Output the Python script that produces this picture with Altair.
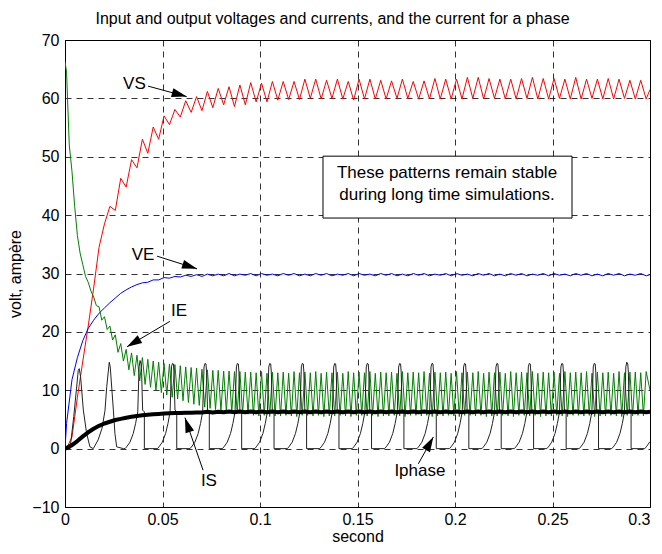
import math
import pandas as pd
import altair as alt

TITLE = "Input and output voltages and currents, and the current for a phase"
X_LABEL = "second"
Y_LABEL = "volt, ampère"
X_TICKS = [0, 0.05, 0.1, 0.15, 0.2, 0.25, 0.3]
Y_TICKS = [-10, 0, 10, 20, 30, 40, 50, 60, 70]
T_END = 0.3

# VS, VE, IS read at the peaks / troughs of the 180 Hz ripple
# (first value at t=0, last value at t=0.3)
RIP_T0 = 0.0008
RIP_STEP = 1 / 360
vs_values = [
    0, 0, 2, 8.8, 15, 21, 27.5, 34.5, 38.5, 41.5,
    40.8, 46.3, 44.8, 49.5, 48.1, 53.0, 50.6, 55.1, 53.0, 57.0,
    55.5, 58.1, 56.8, 59.6, 57.6, 60.3, 57.9, 61.2, 58.4, 61.7,
    58.9, 62.0, 58.6, 62.3, 58.9, 62.7, 59.4, 62.6, 59.4, 62.9,
    59.7, 62.9, 59.8, 62.9, 59.8, 63.3, 60.0, 63.3, 59.9, 63.1,
    60.0, 63.3, 59.9, 62.9, 59.7, 63.3, 59.9, 63.3, 59.9, 63.1,
    59.9, 63.0, 60.0, 63.3, 60.0, 62.9, 59.9, 63.0, 59.9, 63.4,
    59.9, 63.3, 59.9, 63.3, 59.9, 63.6, 60.0, 63.6, 59.9, 63.4,
    60.0, 63.3, 59.9, 63.3, 59.9, 63.4, 60.0, 63.6, 59.9, 63.4,
    59.9, 63.4, 60.0, 63.3, 59.9, 63.6, 59.9, 63.3, 60.0, 63.3,
    59.9, 63.4, 59.9, 63.3, 60.0, 63.1, 59.9, 63.1, 59.9, 61.5,
]
ve_values = [
    0, 4.3, 11.8, 15.6, 18.5, 20.6, 22.0, 23.2, 24.1, 25.0,
    25.8, 26.6, 27.2, 27.7, 28.1, 28.4, 28.5, 28.9, 28.9, 29.3,
    29.2, 29.5, 29.4, 29.7, 29.5, 29.8, 29.5, 29.9, 29.6, 29.9,
    29.6, 30.0, 29.6, 29.9, 29.7, 30.0, 29.6, 30.0, 29.7, 29.9,
    29.6, 30.0, 29.7, 30.0, 29.6, 29.9, 29.6, 30.0, 29.7, 30.0,
    29.6, 29.9, 29.7, 30.0, 29.6, 30.0, 29.7, 29.9, 29.6, 30.0,
    29.7, 30.0, 29.6, 29.9, 29.6, 30.0, 29.7, 30.0, 29.6, 29.9,
    29.7, 30.0, 29.6, 30.0, 29.7, 29.9, 29.6, 30.0, 29.7, 30.0,
    29.6, 29.9, 29.6, 30.0, 29.7, 30.0, 29.6, 29.9, 29.7, 30.0,
    29.6, 30.0, 29.7, 29.9, 29.6, 30.0, 29.7, 30.0, 29.6, 29.9,
    29.6, 30.0, 29.7, 30.0, 29.6, 29.9, 29.7, 30.0, 29.6, 29.8,
]
is_values = [
    0, 0.1, 0.6, 1.3, 2.1, 2.8, 3.4, 3.9, 4.3, 4.6,
    4.9, 5.1, 5.3, 5.45, 5.6, 5.7, 5.8, 5.9, 5.95, 6.0,
    6.05, 6.1, 6.1, 6.15, 6.15, 6.2, 6.2, 6.3, 6.2, 6.3,
    6.25, 6.35, 6.25, 6.35, 6.25, 6.35, 6.25, 6.35, 6.25, 6.35,
    6.25, 6.35, 6.25, 6.35, 6.25, 6.35, 6.25, 6.35, 6.25, 6.35,
    6.25, 6.35, 6.25, 6.35, 6.25, 6.35, 6.25, 6.35, 6.25, 6.35,
    6.25, 6.35, 6.25, 6.35, 6.25, 6.35, 6.25, 6.35, 6.25, 6.35,
    6.25, 6.35, 6.25, 6.35, 6.25, 6.35, 6.25, 6.35, 6.25, 6.35,
    6.25, 6.35, 6.25, 6.35, 6.25, 6.35, 6.25, 6.35, 6.25, 6.35,
    6.25, 6.35, 6.25, 6.35, 6.25, 6.35, 6.25, 6.35, 6.25, 6.35,
    6.25, 6.35, 6.25, 6.35, 6.25, 6.35, 6.25, 6.35, 6.25, 6.3,
]

# IE read at the peaks / troughs of its 360 Hz ripple
IE_T0 = 0.0008
IE_STEP = 1 / 720
ie_values = [
    66.3, 64.5, 52, 47.5, 41.5, 36.5, 33.5, 31.5, 29.5, 28.5,
    27, 26, 24.5, 24.3, 22.0, 22.6, 20.4, 21.0, 18.6, 19.5,
    16.5, 18.0, 15.0, 17.0, 13.5, 16.4, 12.5, 16.0, 11.6, 15.6,
    11.0, 15.3, 10.5, 15.0, 10.0, 14.8, 9.6, 14.6, 9.2, 14.5,
    8.8, 14.4, 8.5, 14.2, 8.2, 14.0, 7.9, 13.9, 7.6, 13.8,
    7.4, 13.6, 7.1, 13.5, 6.9, 13.4, 6.7, 13.4, 6.5, 13.3,
    6.4, 13.3, 6.2, 13.2, 6.1, 13.2, 6.0, 13.1, 5.9, 13.1,
    5.7, 13.0, 5.6, 13.2, 5.7, 12.9, 5.5, 13.1, 5.6, 13.0,
    5.6, 13.1, 5.7, 12.9, 5.6, 13.2, 5.5, 13.0, 5.7, 13.1,
    5.7, 13.0, 5.6, 13.2, 5.7, 12.9, 5.5, 13.1, 5.6, 13.0,
    5.6, 13.1, 5.7, 12.9, 5.6, 13.2, 5.5, 13.0, 5.7, 13.1,
    5.7, 13.0, 5.6, 13.2, 5.7, 12.9, 5.5, 13.1, 5.6, 13.0,
    5.6, 13.1, 5.7, 12.9, 5.6, 13.2, 5.5, 13.0, 5.7, 13.1,
    5.7, 13.0, 5.6, 13.2, 5.7, 12.9, 5.5, 13.1, 5.6, 13.0,
    5.6, 13.1, 5.7, 12.9, 5.6, 13.2, 5.5, 13.0, 5.7, 13.1,
    5.7, 13.0, 5.6, 13.2, 5.7, 12.9, 5.5, 13.1, 5.6, 13.0,
    5.6, 13.1, 5.7, 12.9, 5.6, 13.2, 5.5, 13.0, 5.7, 13.1,
    5.7, 13.0, 5.6, 13.2, 5.7, 12.9, 5.5, 13.1, 5.6, 13.0,
    5.6, 13.1, 5.7, 12.9, 5.6, 13.2, 5.5, 13.0, 5.7, 13.1,
    5.7, 13.0, 5.6, 13.2, 5.7, 12.9, 5.5, 13.1, 5.6, 13.0,
    5.6, 13.1, 5.7, 12.9, 5.6, 13.2, 5.5, 13.0, 5.7, 13.1,
    5.6, 13.1, 5.7, 13.0, 5.6, 13.2, 10.0,
]

# Iphase: first two pulses, then a repeated pulse read around each spike
iph_early_t = [0, 0.0026, 0.0045, 0.0068, 0.0073, 0.0080, 0.0094, 0.0111,
               0.0128, 0.0145, 0.0170, 0.0190, 0.0205, 0.0214, 0.0227,
               0.0232, 0.0248, 0.0256, 0.0265, 0.0300]
iph_early_v = [0, 0, 5.5, 13.4, 13.7, 12.3, 6.6, 2.6, 0.3, 0, 1.5, 3.5, 6.5,
               10.6, 14.8, 14.0, 6.6, 2.6, 0.3, 0]
iph_spikes = [0.0385, 0.0551, 0.0718, 0.0884, 0.1050, 0.1217, 0.1383, 0.1550,
              0.1716, 0.1882, 0.2049, 0.2215, 0.2381, 0.2548, 0.2714, 0.2881]
iph_peaks = [15.1, 14.6, 14.6, 14.6, 14.6, 14.6, 14.6, 14.6, 14.6, 14.6,
             14.6, 14.6, 14.6, 14.6, 14.6, 14.8]
iph_shape_dt = [-0.0077, -0.0069, -0.0052, -0.0035, -0.0023, -0.0012, -0.0005,
                0, 0.0005, 0.0008, 0.0013, 0.0022, 0.0022]
iph_shape_v = [0, 0.3, 1.1, 2.6, 4.3, 6.3, 14.0, None, 14.5, 13.1, 6.6, 6.3, 0]
iph_tail_t = [0.2973, 0.2981, 0.3]
iph_tail_v = [0, 0.3, 1.2]

# annotations (data units)
labels = [("VS", 0.0356, 62.5), ("VE", 0.0400, 33.1), ("IE", 0.0585, 23.5),
          ("IS", 0.0738, -5.6), ("Iphase", 0.1820, -3.9)]
arrows = [(0.0426, 62.1, 0.0624, 60.3), (0.0472, 32.97, 0.0677, 30.8),
          (0.0538, 21.8, 0.0318, 17.45), (0.0708, -3.7, 0.0615, 5.3),
          (0.1812, -2.6, 0.1889, 2.0)]
note_lines = ["These patterns remain stable", "during long time simulations."]
note_box = (0.1323, 39.5, 0.2600, 50.1)
note_t = 0.1959
note_v = [47.2, 43.4]

W, H = 585, 467
FONT = "Liberation Sans"


def sampled(values, t0, step):
    n = len(values)
    ts = [0.0] + [t0 + k * step for k in range(n - 2)] + [T_END]
    return pd.DataFrame({"t": ts, "v": values, "i": range(n)})


df_vs = sampled(vs_values, RIP_T0, RIP_STEP)
df_ve = sampled(ve_values, RIP_T0, RIP_STEP)
df_is = sampled(is_values, RIP_T0, RIP_STEP)
df_ie = sampled(ie_values, IE_T0, IE_STEP)

ph_t, ph_v = list(iph_early_t), list(iph_early_v)
for ts, pk in zip(iph_spikes, iph_peaks):
    for dt, val in zip(iph_shape_dt, iph_shape_v):
        ph_t.append(ts + dt)
        ph_v.append(pk if val is None else val)
ph_t += iph_tail_t
ph_v += iph_tail_v
df_ph = pd.DataFrame({"t": ph_t, "v": ph_v, "i": range(len(ph_t))})

xs = alt.Scale(domain=[0, T_END], nice=False, zero=False)
ys = alt.Scale(domain=[-10, 70], nice=False, zero=False)
ax_x = alt.Axis(values=X_TICKS, format="~g", grid=True, gridDash=[6, 5],
                gridColor="black", gridOpacity=0.8, domain=False, ticks=False,
                labelFont=FONT, labelFontSize=16, labelColor="black",
                labelPadding=4, labelFlush=False,
                labelAlign={"expr": "datum.value > 0.299 ? 'right' : 'center'"},
                title=X_LABEL, titleFont=FONT,
                titleFontSize=16, titleFontWeight="normal", titleColor="black",
                titlePadding=1)
ax_y = alt.Axis(values=Y_TICKS, format="d", grid=True, gridDash=[6, 5],
                gridColor="black", gridOpacity=0.8, domain=False, ticks=False,
                labelFont=FONT, labelFontSize=16, labelColor="black",
                labelPadding=6, labelFlush=False, title=Y_LABEL, titleFont=FONT,
                titleFontSize=16, titleFontWeight="normal", titleColor="black",
                titlePadding=8)
X = alt.X("t:Q", scale=xs, axis=ax_x)
Y = alt.Y("v:Q", scale=ys, axis=ax_y)


def line(df, color, width):
    return alt.Chart(df).mark_line(color=color, strokeWidth=width,
                                   strokeJoin="round", clip=True).encode(
        x=X, y=Y, order="i:Q")


sx, sy = W / T_END, H / 80.0
arr_rows = []
for t1, v1, t2, v2 in arrows:
    ang = math.degrees(math.atan2(-(v2 - v1) * sy, (t2 - t1) * sx)) % 360
    arr_rows.append({"t": t1, "v": v1, "t2": t2, "v2": v2, "ang": ang})
df_arr = pd.DataFrame(arr_rows)
df_lab = pd.DataFrame([{"txt": a, "t": b, "v": c} for a, b, c in labels])

rules = alt.Chart(df_arr).mark_rule(color="black", strokeWidth=1).encode(
    x=X, y=Y, x2="t2:Q", y2="v2:Q")
heads = alt.Chart(df_arr).mark_point(
    shape="M0,0L-1,-0.3L-1,0.3Z", filled=True, color="black", opacity=1,
    size=900, strokeWidth=0).encode(
    x=alt.X("t2:Q", scale=xs, axis=ax_x), y=alt.Y("v2:Q", scale=ys, axis=ax_y),
    angle=alt.Angle("ang:Q", scale=None))
texts = alt.Chart(df_lab).mark_text(font=FONT, fontSize=17, color="black").encode(
    x=X, y=Y, text="txt:N")

df_box = pd.DataFrame([{"t": note_box[0], "v": note_box[1],
                        "t2": note_box[2], "v2": note_box[3]}])
box = alt.Chart(df_box).mark_rect(fill="white", stroke="black",
                                  strokeWidth=1).encode(
    x=X, y=Y, x2="t2:Q", y2="v2:Q")
df_note = pd.DataFrame({"t": [note_t] * 2, "v": note_v, "txt": note_lines})
note = alt.Chart(df_note).mark_text(font=FONT, fontSize=17, color="black").encode(
    x=X, y=Y, text="txt:N")

chart = alt.layer(
    line(df_vs, "#ff0000", 1),
    line(df_ve, "#0000ff", 1),
    line(df_ie, "#008000", 1),
    line(df_ph, "#222222", 1),
    line(df_is, "black", 4),
    box, note, rules, heads, texts,
).properties(
    width=W, height=H,
    autosize=alt.AutoSizeParams(type="none"),
    padding={"left": 57, "top": 32, "right": 4, "bottom": 39},
    title=alt.TitleParams(TITLE, font=FONT, fontSize=16, fontWeight="normal",
                          color="black", anchor="middle", offset=5, dx=-25),
).configure_view(stroke="black", strokeWidth=1)

chart.save("out.html", embed_options={"renderer": "svg", "actions": False})
